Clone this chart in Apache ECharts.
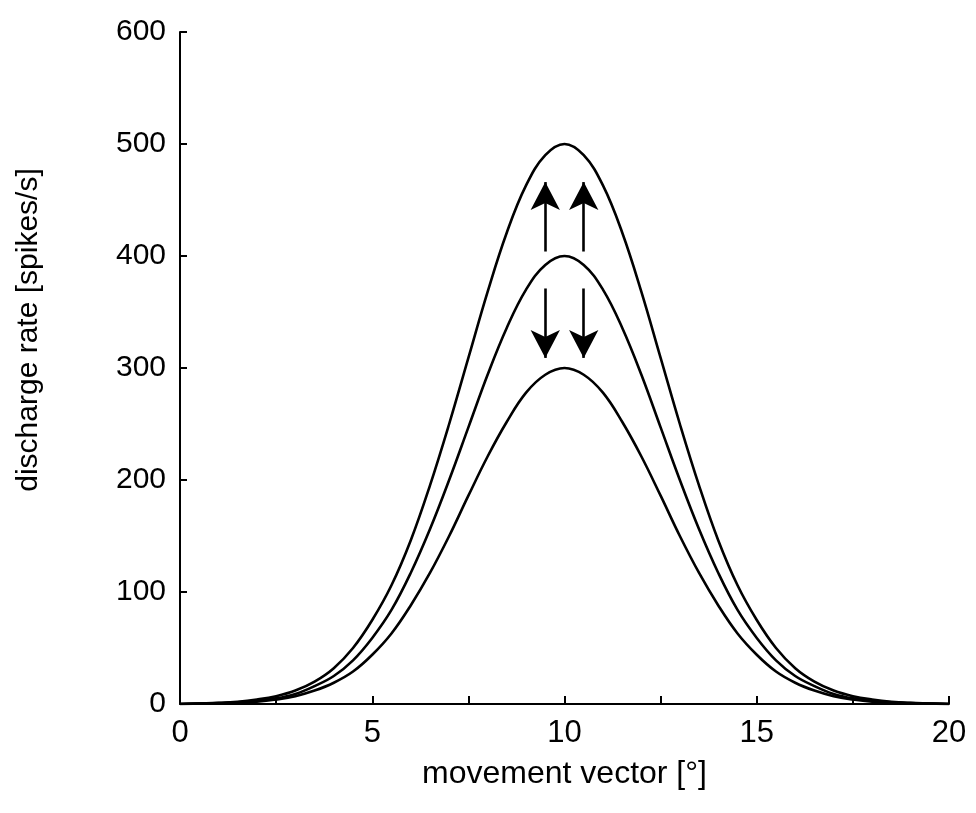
<!DOCTYPE html>
<html>
<head>
<meta charset="utf-8">
<script src="https://cdn.jsdelivr.net/npm/echarts@6/dist/echarts.min.js"></script>
<style>
  html, body { margin: 0; padding: 0; background: #ffffff; }
  #chart { width: 976px; height: 813px; }
</style>
</head>
<body>
<div id="chart"></div>
<script>
// movement vector positions (deg)
var movement = [0, 0.5, 1, 1.5, 2, 2.5, 3, 3.5, 4, 4.5, 5, 5.5, 6, 6.5, 7, 7.5, 8, 8.5, 9, 9.5, 10,
  10.5, 11, 11.5, 12, 12.5, 13, 13.5, 14, 14.5, 15, 15.5, 16, 16.5, 17, 17.5, 18, 18.5, 19, 19.5, 20]

// discharge rate (spikes/s)
var rateHigh = [0, 0.5, 1, 2, 4, 7, 12, 20, 32, 50, 75, 106, 146, 195, 250, 309, 368, 421, 463, 490, 500,
  490, 463, 421, 368, 309, 250, 195, 146, 106, 75, 50, 32, 20, 12, 7, 4, 2, 1, 0.5, 0]
var rateMid = [0, 0.4, 0.8, 1.5, 3, 5, 9, 16, 25, 39, 59, 84, 117, 156, 200, 247, 294, 336, 370, 392, 400,
  392, 370, 336, 294, 247, 200, 156, 117, 84, 59, 39, 25, 16, 9, 5, 3, 1.5, 0.8, 0.4, 0]
var rateLow = [0, 0.3, 0.6, 1.2, 2, 4, 7, 12, 19, 29, 44, 63, 88, 117, 150, 186, 221, 252, 278, 294, 300,
  294, 278, 252, 221, 186, 150, 117, 88, 63, 44, 29, 19, 12, 7, 4, 2, 1.2, 0.6, 0.3, 0]

// arrows: [x, from, to]
var arrowsUp = [[9.5, 404, 466], [10.5, 404, 466]]
var arrowsDown = [[9.5, 371, 309], [10.5, 371, 309]]

var yTicks = [0, 100, 200, 300, 400, 500, 600]

function pairs (ys) {
  return movement.map(function (x, i) { return [x, ys[i]] })
}

function arrowLines (list) {
  return list.map(function (a) {
    return [
      { coord: [a[0], a[1]], symbol: 'none' },
      { coord: [a[0], a[2]], symbol: 'arrow' }
    ]
  })
}

var font = 'Liberation Sans, Arial, sans-serif'
var lineStyle = { color: '#000', width: 2.6 }

var chart = echarts.init(document.getElementById('chart'))
chart.setOption({
  animation: false,
  backgroundColor: '#ffffff',
  grid: { left: 180, right: 27, top: 32, bottom: 109 },
  xAxis: {
    type: 'value',
    min: 0,
    max: 20,
    interval: 5,
    name: 'movement vector [°]',
    nameLocation: 'middle',
    nameGap: 54,
    nameTextStyle: { fontFamily: font, fontSize: 32, color: '#000' },
    axisLine: { lineStyle: { color: '#000', width: 2 } },
    axisTick: { inside: true, length: 8, lineStyle: { color: '#000', width: 2 } },
    minorTick: { show: true, splitNumber: 2, length: 8, lineStyle: { color: '#000', width: 2 } },
    splitLine: { show: false },
    axisLabel: { color: '#000', fontSize: 31, margin: 14, fontFamily: font }
  },
  yAxis: {
    type: 'value',
    min: yTicks[0],
    max: yTicks[yTicks.length - 1],
    interval: 100,
    name: 'discharge rate [spikes/s]',
    nameLocation: 'middle',
    nameGap: 136,
    // shifts the rotated title a little towards the top, as in the original
    nameTextStyle: { fontFamily: font, fontSize: 30, color: '#000', padding: [0, 0, 0, 76] },
    axisLine: { show: true, lineStyle: { color: '#000', width: 2 } },
    axisTick: { show: true, inside: true, length: 7, lineStyle: { color: '#000', width: 2 } },
    splitLine: { show: false },
    axisLabel: { color: '#000', fontSize: 30, margin: 14, fontFamily: font }
  },
  series: [
    {
      type: 'line',
      data: pairs(rateHigh),
      smooth: 0.4,
      showSymbol: false,
      lineStyle: lineStyle,
      markLine: {
        silent: true,
        symbolSize: [22, 28],
        label: { show: false },
        lineStyle: { color: '#000', width: 2.6, type: 'solid' },
        data: arrowLines(arrowsUp).concat(arrowLines(arrowsDown))
      }
    },
    { type: 'line', data: pairs(rateMid), smooth: 0.4, showSymbol: false, lineStyle: lineStyle },
    { type: 'line', data: pairs(rateLow), smooth: 0.4, showSymbol: false, lineStyle: lineStyle }
  ]
})
</script>
</body>
</html>
